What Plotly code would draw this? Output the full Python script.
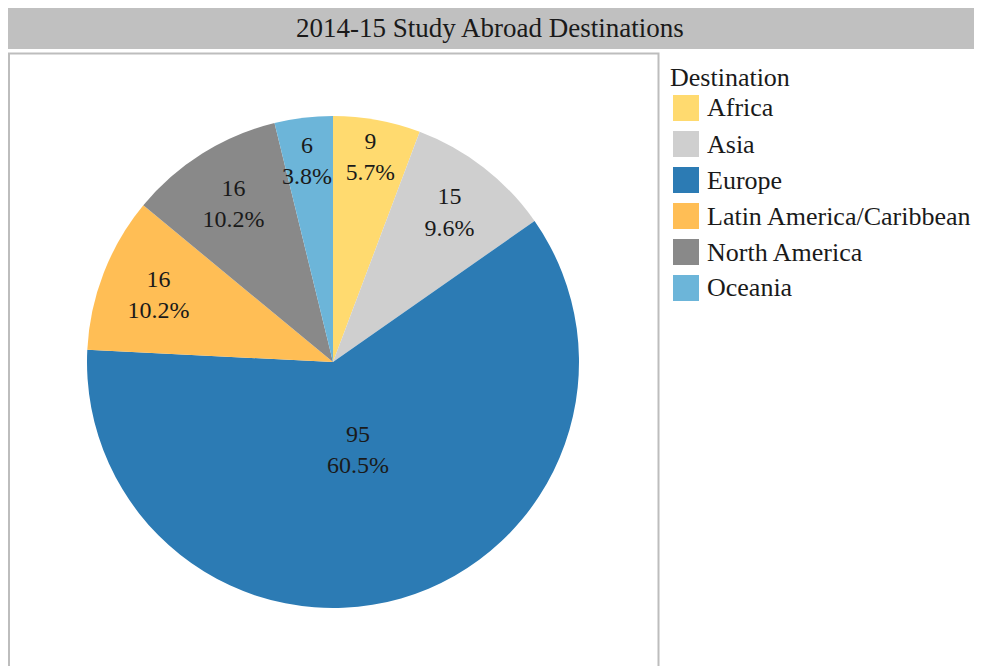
import math

import plotly.graph_objects as go

# study abroad counts by destination, 2014-15
destinations = ["Africa", "Asia", "Europe", "Latin America/Caribbean", "North America", "Oceania"]
students = [9, 15, 95, 16, 16, 6]
colors = ["#FFDA6F", "#CFCFCF", "#2C7BB4", "#FFBE55", "#898989", "#6CB5D9"]

# the page body adds an 8px margin, so the figure is a bit smaller than the window
OFF = 8
W, H = 974, 658
FONT = "Liberation Serif"
TXT = "#1a1a1a"


def px_x(x):
    return (x - OFF) / W


def px_y(y):
    # window pixel from top -> paper coords
    return 1 - (y - OFF) / H


# pie box in window pixels
cx, cy, R = 333, 362, 246

# plotly shrinks the label of the thin Oceania slice and puts the Europe one
# too low, so those two are placed from the data as annotations
# (slice index -> radius fraction, vertical nudge)
manual = {2: (0.37, 0), 5: (0.875, 12)}
textpos = ["none" if i in manual else "inside" for i in range(len(destinations))]

fnt = dict(family=FONT, size=24, color=TXT)
fig = go.Figure(
    go.Pie(
        labels=destinations,
        values=students,
        sort=False,
        direction="clockwise",
        rotation=0,
        marker=dict(colors=colors, line=dict(width=0)),
        texttemplate="%{value}<br>%{percent:.1%}",
        textposition=textpos,
        insidetextorientation="horizontal",
        textfont=fnt,
        insidetextfont=fnt,
        hoverinfo="label+value+percent",
        showlegend=False,
        domain=dict(x=[px_x(cx - R), px_x(cx + R)], y=[px_y(cy + R), px_y(cy - R)]),
    )
)

shapes = [
    # title strip
    dict(type="rect", xref="paper", yref="paper",
         x0=px_x(8), x1=px_x(974), y0=px_y(49), y1=px_y(5),
         fillcolor="#C0C0C0", line=dict(width=0), layer="below"),
    # plot panel border
    dict(type="rect", xref="paper", yref="paper",
         x0=px_x(9), x1=px_x(658.5), y0=px_y(720), y1=px_y(53.5),
         fillcolor="rgba(0,0,0,0)", line=dict(color="#BDBDBD", width=2), layer="below"),
]
annotations = [
    dict(text="2014-15 Study Abroad Destinations", xref="paper", yref="paper",
         x=px_x(490), y=px_y(28), xanchor="center", yanchor="middle", showarrow=False,
         font=dict(family=FONT, size=27, color=TXT)),
    dict(text="Destination", xref="paper", yref="paper",
         x=px_x(668), y=px_y(77), xanchor="left", yanchor="middle", showarrow=False,
         font=dict(family=FONT, size=26, color=TXT)),
]

total = sum(students)
for i, (frac, nudge) in manual.items():
    mid = (sum(students[:i]) + students[i] / 2) / total * 2 * math.pi
    r_lab = frac * R
    annotations.append(dict(
        text=f"{students[i]}<br>{students[i] / total:.1%}",
        xref="paper", yref="paper",
        x=px_x(cx + r_lab * math.sin(mid)), y=px_y(cy - r_lab * math.cos(mid) + nudge),
        xanchor="center", yanchor="middle", showarrow=False, font=fnt))

# legend drawn by hand so the swatches can be as big as in the original
for i, (name, col) in enumerate(zip(destinations, colors)):
    top = 95 + 36 * i
    shapes.append(dict(type="rect", xref="paper", yref="paper",
                       x0=px_x(673), x1=px_x(699), y0=px_y(top + 26), y1=px_y(top),
                       fillcolor=col, line=dict(width=0)))
    annotations.append(dict(text=name, xref="paper", yref="paper",
                            x=px_x(705), y=px_y(top + 13), xanchor="left", yanchor="middle",
                            showarrow=False,
                            font=dict(family=FONT, size=26, color=TXT)))

fig.update_layout(
    width=W, height=H,
    margin=dict(l=0, r=0, t=0, b=0),
    paper_bgcolor="white",
    plot_bgcolor="white",
    font=dict(family=FONT, color=TXT),
    shapes=shapes,
    annotations=annotations,
)

fig.write_html("out.html")
